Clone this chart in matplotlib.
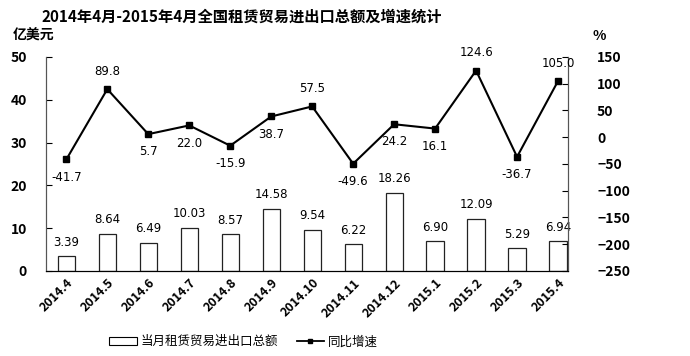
import matplotlib
matplotlib.use("Agg")
import matplotlib.pyplot as plt
import numpy as np

plt.rcParams['font.family'] = ['Noto Sans CJK SC', 'DejaVu Sans']

months = ['2014.4', '2014.5', '2014.6', '2014.7', '2014.8', '2014.9', '2014.10',
          '2014.11', '2014.12', '2015.1', '2015.2', '2015.3', '2015.4']
amount = [3.39, 8.64, 6.49, 10.03, 8.57, 14.58, 9.54, 6.22, 18.26, 6.90, 12.09, 5.29, 6.94]
growth = [-41.7, 89.8, 5.7, 22.0, -15.9, 38.7, 57.5, -49.6, 24.2, 16.1, 124.6, -36.7, 105.0]
# label above (True) or below (False) the point
above = [False, True, False, False, False, False, True, False, False, False, True, False, True]

fig = plt.figure(figsize=(6.9, 3.56), dpi=100)
ax = fig.add_axes([0.067, 0.239, 0.756, 0.601])
ax2 = ax.twinx()

x = np.arange(len(months))
ax.bar(x, amount, width=0.42, facecolor='white', edgecolor='#222222', linewidth=0.9, zorder=2)
for xi, v in zip(x, amount):
    ax.text(xi, v + 1.8, '%.2f' % v, ha='center', va='bottom', fontsize=8.5, family='DejaVu Sans')

ax2.plot(x, growth, color='black', marker='s', markersize=4.5, linewidth=1.5, zorder=3)
for xi, v, up in zip(x, growth, above):
    off = 33 if up else -33
    ax2.text(xi, v + off, '%.1f' % v, ha='center', va='center', fontsize=8.5, family='DejaVu Sans')

ax.set_xlim(-0.49, 12.24)
ax.set_ylim(0, 50)
ax.set_yticks(range(0, 51, 10))
ax2.set_ylim(-250, 150)
ax2.set_yticks(range(-250, 151, 50))

ax.set_xticks(x)
ax.set_xticklabels(months, rotation=45, ha='right', rotation_mode='anchor', fontweight='bold', fontsize=9)
for lab in ax.get_yticklabels():
    lab.set_fontweight('bold')
for lab in ax2.get_yticklabels():
    lab.set_fontweight('bold')
ax.tick_params(axis='y', direction='in', labelsize=10, pad=14, length=4)
ax2.tick_params(axis='y', direction='in', labelsize=10, pad=21, length=4)
ax.tick_params(axis='x', length=0, pad=4)

for a in (ax, ax2):
    a.spines['top'].set_visible(False)
    a.spines['left'].set_color('#555555')
    a.spines['right'].set_color('#555555')

fig.text(0.049, 0.9, '亿美元', fontsize=10, fontweight='bold', ha='center', va='center')
fig.text(0.858, 0.9, '%', fontsize=10, fontweight='bold', ha='left', va='center')
fig.text(0.35, 0.952, '2014年4月-2015年4月全国租赁贸易进出口总额及增速统计', fontsize=11, fontweight='bold',
         ha='center', va='center')

handles = [plt.Rectangle((0, 0), 1, 1, facecolor='white', edgecolor='black', linewidth=0.8),
           plt.Line2D([], [], color='black', marker='s', markersize=3, linewidth=1.3)]
fig.legend(handles, ['当月租赁贸易进出口总额', '同比增速'], loc='lower center', ncol=2,
           bbox_to_anchor=(0.353, -0.01), frameon=False, fontsize=9, handlelength=2.2,
           columnspacing=1.5, handletextpad=0.3)

fig.savefig('out.png', dpi=100)
